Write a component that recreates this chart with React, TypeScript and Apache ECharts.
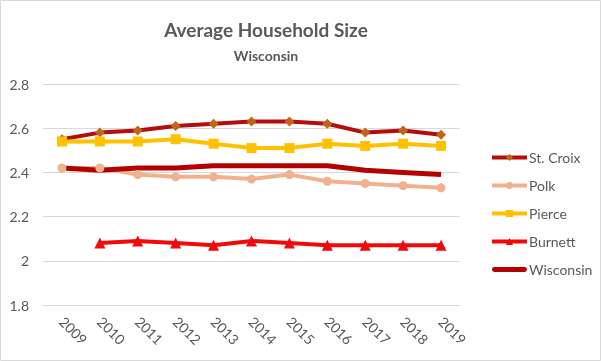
import React, { useEffect, useRef } from "react";
import * as echarts from "echarts";

const years = ["2009", "2010", "2011", "2012", "2013", "2014", "2015", "2016", "2017", "2018", "2019"];
const stCroix = [2.55, 2.58, 2.59, 2.61, 2.62, 2.63, 2.63, 2.62, 2.58, 2.59, 2.57];
const polk = [2.42, 2.42, 2.39, 2.38, 2.38, 2.37, 2.39, 2.36, 2.35, 2.34, 2.33];
const pierce = [2.54, 2.54, 2.54, 2.55, 2.53, 2.51, 2.51, 2.53, 2.52, 2.53, 2.52];
const burnett = [null, 2.08, 2.09, 2.08, 2.07, 2.09, 2.08, 2.07, 2.07, 2.07, 2.07];
const wisconsin = [2.42, 2.41, 2.42, 2.42, 2.43, 2.43, 2.43, 2.43, 2.41, 2.40, 2.39];

const FONT = "Lato, 'Open Sans', sans-serif";
const TXT = "#595959";

export default function App() {
  const ref = useRef<HTMLDivElement>(null);
  useEffect(() => {
    if (!ref.current) return;
    const chart = echarts.init(ref.current, null, { renderer: "svg" });
    const mk = (name: string, data: any[], color: string, width: number, symbol: string, size: number, mcolor?: string) => ({
      name,
      type: "line",
      data,
      symbol,
      symbolSize: size,
      showSymbol: symbol !== "none",
      lineStyle: { color, width },
      itemStyle: { color: mcolor || color, borderWidth: 0 },
      connectNulls: false,
    });
    chart.setOption({
      animation: false,
      textStyle: { fontFamily: FONT },
      title: [
        {
          text: "Average Household Size",
          left: 261,
          textAlign: "center",
          top: 15,
          textStyle: { fontSize: 19, fontWeight: "bold", color: TXT, fontFamily: FONT },
        },
        {
          text: "Wisconsin",
          left: 261,
          textAlign: "center",
          top: 43,
          textStyle: { fontSize: 14, fontWeight: "bold", color: TXT, fontFamily: FONT },
        },
      ],
      graphic: [
        {
          type: "rect",
          shape: { x: 0.5, y: 0.5, width: 600, height: 360 },
          style: { fill: "none", stroke: "#d9d9d9", lineWidth: 1 },
          silent: true,
        },
      ],
      legend: {
        orient: "vertical",
        left: 485,
        top: 144,
        itemWidth: 35,
        itemHeight: 9,
        itemGap: 11,
        lineStyle: { width: 4 },
        textStyle: { fontSize: 14, lineHeight: 17, color: TXT, fontFamily: FONT, padding: [0, 0, 0, -3] },
        data: [
          "St. Croix",
          "Polk",
          "Pierce",
          "Burnett",
          { name: "Wisconsin", icon: "path://M2,0 L33,0 A2.5,2.5 0 0 1 33,5 L2,5 A2.5,2.5 0 0 1 2,0 Z", itemStyle: { color: "#B30000" } },
        ],
      },
      grid: { left: 43, right: 141, top: 84, bottom: 56 },
      xAxis: {
        type: "category",
        data: years,
        boundaryGap: true,
        axisLine: { lineStyle: { color: "#d9d9d9" } },
        axisTick: { show: false },
        axisLabel: {
          rotate: -45,
          color: TXT,
          fontSize: 14,
          fontFamily: FONT,
          interval: 0,
          margin: 14,
        },
      },
      yAxis: {
        type: "value",
        min: 1.8,
        max: 2.8,
        interval: 0.2,
        axisLine: { show: false },
        axisTick: { show: false },
        splitLine: { lineStyle: { color: "#d9d9d9" } },
        axisLabel: { color: TXT, fontSize: 14, fontFamily: FONT, margin: 14 },
      },
      series: [
        mk("St. Croix", stCroix, "#B30D0D", 4, "diamond", 10, "#C0651A"),
        mk("Polk", polk, "#F0B18C", 4, "circle", 9),
        mk("Pierce", pierce, "#FFC000", 4, "rect", 10),
        mk("Burnett", burnett, "#F00A0A", 4, "triangle", 11),
        mk("Wisconsin", wisconsin, "#B30000", 5, "none", 0),
      ],
    });
    return () => chart.dispose();
  }, []);
  return <div ref={ref} style={{ position: "fixed", left: 0, top: 0, width: 601, height: 361 }} />;
}
